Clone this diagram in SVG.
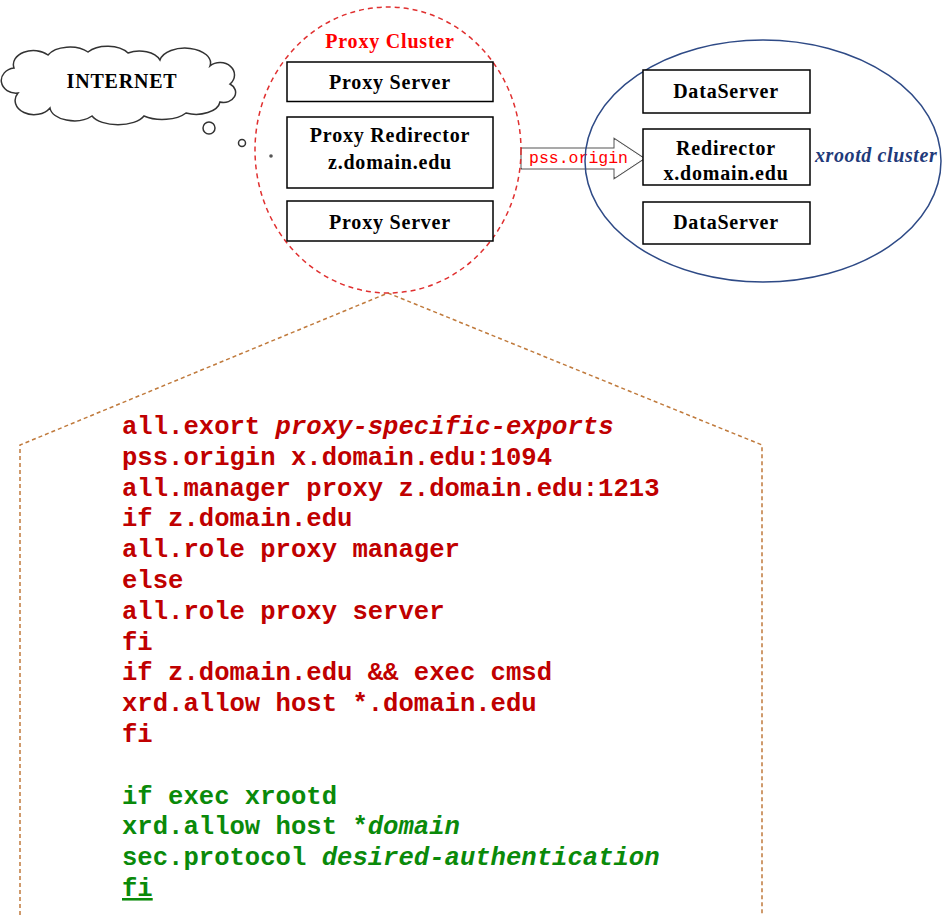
<svg xmlns="http://www.w3.org/2000/svg" width="942" height="915" viewBox="0 0 942 915">
<style>
.box{fill:#fff;stroke:#000;stroke-width:1.5}
.lbl{font-family:"Liberation Serif",serif;font-weight:bold;font-size:20px;letter-spacing:0.8px;fill:#000;text-anchor:middle}
.code{font-family:"Liberation Mono",monospace;font-weight:bold;font-size:25.6px}
.red{fill:#c00000}
.grn{fill:#0a8a0a}
</style>
<rect width="942" height="915" fill="#fff"/>
<g id="connectors">
  <polyline points="20,915 20,445 388,293 762,445 762,915" fill="none" stroke="#c07a3c" stroke-width="1.5" stroke-dasharray="4,3"/>
  <g id="arrow">
    <polygon points="522,149 615,149 615,140 643,158.5 615,177 615,168 522,168" fill="#fff" stroke="#555" stroke-width="3"/>
    <polygon points="522,149 615,149 615,140 643,158.5 615,177 615,168 522,168" fill="#fff" stroke="#fff" stroke-width="1"/>
    <text x="529" y="163" font-family="Liberation Mono,monospace" font-size="16.5" fill="#ff0000">pss.origin</text>
  </g>
</g>
<g id="internet">
  <path d="M18,93 A14,12 0 0 1 14,68 A20,14 0 0 1 48,55 A24,14 0 0 1 88,52 A24,14 0 0 1 128,53 A22,14 0 0 1 160,60 A24,14 0 0 1 210,66 A14,12 0 0 1 230,84 A12,10 0 0 1 220,102 A24,14 0 0 1 186,113 A28,14 0 0 1 144,116 A28,14 0 0 1 92,116 A24,14 0 0 1 50,108 A16,12 0 0 1 18,93 Z" fill="#fff" stroke="#333" stroke-width="1.5"/>
  <text x="122" y="88" class="lbl">INTERNET</text>
  <circle cx="209" cy="128" r="6" fill="#fff" stroke="#333" stroke-width="1.5"/>
  <circle cx="242" cy="143" r="3.5" fill="#fff" stroke="#333" stroke-width="1.5"/>
  <circle cx="271" cy="156" r="1.8" fill="#555"/>
</g>
<g id="proxy-cluster">
  <ellipse cx="388" cy="150" rx="133" ry="143" fill="none" stroke="#e03030" stroke-width="1.5" stroke-dasharray="5,4"/>
  <text x="390" y="48" font-family="Liberation Serif,serif" font-weight="bold" font-size="20" letter-spacing="0.8" fill="#ff0000" text-anchor="middle">Proxy Cluster</text>
</g>
<g id="proxy-server-1">
  <rect x="287" y="62" width="206" height="39.5" class="box"/>
  <text x="390" y="89" class="lbl">Proxy Server</text>
</g>
<g id="proxy-redirector">
  <rect x="287" y="117" width="206" height="71" class="box"/>
  <text x="390" y="142" class="lbl">Proxy Redirector</text>
  <text x="390" y="169" class="lbl">z.domain.edu</text>
</g>
<g id="proxy-server-2">
  <rect x="287" y="201" width="206" height="40" class="box"/>
  <text x="390" y="229" class="lbl">Proxy Server</text>
</g>
<g id="xrootd-cluster">
  <ellipse cx="763" cy="161" rx="178" ry="121" fill="none" stroke="#2e4a86" stroke-width="1.5"/>
  <text x="815" y="162" font-family="Liberation Serif,serif" font-weight="bold" font-style="italic" font-size="20" letter-spacing="0.6" fill="#1f3a7a">xrootd cluster</text>
</g>
<g id="dataserver-1">
  <rect x="643" y="70" width="167" height="43" class="box"/>
  <text x="726" y="98" class="lbl">DataServer</text>
</g>
<g id="redirector">
  <rect x="643" y="129" width="167" height="56" class="box"/>
  <text x="726" y="155" class="lbl">Redirector</text>
  <text x="726" y="180" class="lbl">x.domain.edu</text>
</g>
<g id="dataserver-2">
  <rect x="643" y="202" width="167" height="42" class="box"/>
  <text x="726" y="229" class="lbl">DataServer</text>
</g>
<g id="config">
  <text class="code red" x="122" y="434">all.exort <tspan font-style="italic">proxy-specific-exports</tspan></text>
  <text class="code red" x="122" y="464.8">pss.origin x.domain.edu:1094</text>
  <text class="code red" x="122" y="495.6">all.manager proxy z.domain.edu:1213</text>
  <text class="code red" x="122" y="526.4">if z.domain.edu</text>
  <text class="code red" x="122" y="557.2">all.role proxy manager</text>
  <text class="code red" x="122" y="588">else</text>
  <text class="code red" x="122" y="618.8">all.role proxy server</text>
  <text class="code red" x="122" y="649.6">fi</text>
  <text class="code red" x="122" y="680.4">if z.domain.edu &amp;&amp; exec cmsd</text>
  <text class="code red" x="122" y="711.2">xrd.allow host *.domain.edu</text>
  <text class="code red" x="122" y="742">fi</text>
  <text class="code grn" x="122" y="803.6">if exec xrootd</text>
  <text class="code grn" x="122" y="834.4">xrd.allow host *<tspan font-style="italic">domain</tspan></text>
  <text class="code grn" x="122" y="865.2">sec.protocol <tspan font-style="italic">desired-authentication</tspan></text>
  <text class="code grn" x="122" y="896" text-decoration="underline">fi</text>
</g>
</svg>
